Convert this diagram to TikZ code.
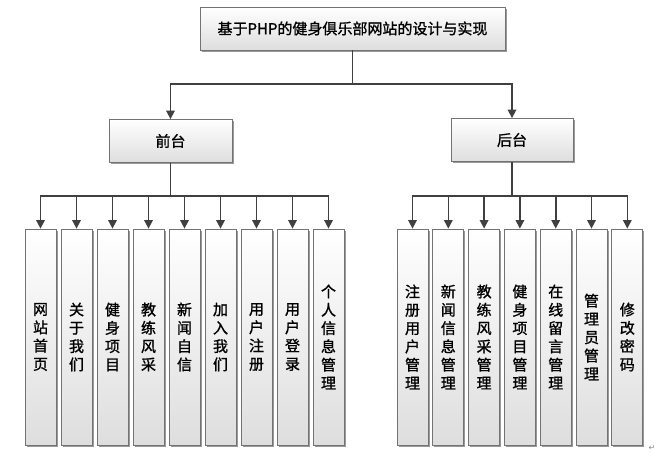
\documentclass[tikz,border=0pt]{standalone}
\usepackage{fontspec}
\newfontfamily\cjk{Noto Sans CJK SC}[FakeBold=1.2]
\newfontfamily\symfont{DejaVu Sans}
\usetikzlibrary{arrows.meta,shadows}
\begin{document}
\begin{tikzpicture}[x=1pt,y=-1pt,
  boxst/.style={draw=black!55, line width=0.8pt, top color=white, bottom color=black!13,
    general shadow={shadow xshift=1.6pt, shadow yshift=-1.6pt, fill=black!40},
    inner sep=0pt, font=\cjk\fontsize{15}{18.3}\selectfont, align=center},
  headst/.style={boxst, minimum height=43pt},
  leafst/.style={boxst, minimum width=31pt, minimum height=216pt},
  wire/.style={draw=black!75, line width=1.6pt},
  arr/.style={wire, -{Triangle[width=8.5pt,length=8.5pt]}}
]
\useasboundingbox (0,0) rectangle (661,455);
\fill[white] (0,0) rectangle (661,455);

\node[headst, minimum width=305pt] (top) at (352.5,28.5) {基于PHP的健身俱乐部网站的设计与实现};
\node[headst, minimum width=123pt] (front) at (170.5,141) {前台};
\node[headst, minimum width=122pt] (back) at (512,140) {后台};

\coordinate (tj) at (352.5,84);
\draw[wire] (top.south) -- (tj);
\draw[arr] (tj) -| (front.north);
\draw[arr] (tj) -| (back.north);

% front leaves
\foreach \i/\t in {0/网\\站\\首\\页, 1/关\\于\\我\\们, 2/健\\身\\项\\目, 3/教\\练\\风\\采,
  4/新\\闻\\自\\信, 5/加\\入\\我\\们, 6/用\\户\\注\\册, 7/用\\户\\登\\录, 8/个\\人\\信\\息\\管\\理}
  \node[leafst] (f\i) at ({40.5+36*\i},337) {\t};
\coordinate (fj) at (170.5,196);
\draw[wire] (front.south) -- (fj);
\foreach \i in {0,...,8} \draw[arr] (fj) -| (f\i.north);

% back leaves
\foreach \i/\t in {0/注\\册\\用\\户\\管\\理, 1/新\\闻\\信\\息\\管\\理, 2/教\\练\\风\\采\\管\\理,
  3/健\\身\\项\\目\\管\\理, 4/在\\线\\留\\言\\管\\理, 5/管\\理\\员\\管\\理, 6/修\\改\\密\\码}
  \node[leafst] (b\i) at ({412.5+35.8*\i},337) {\t};
\coordinate (bj) at (512,196);
\draw[wire] (back.south) -- (bj);
\foreach \i in {0,...,6} \draw[arr] (bj) -| (b\i.north);

\node[text=black!45, font=\symfont\fontsize{8}{8}\selectfont, inner sep=0pt] (pm) at (652,448) {↵};
\end{tikzpicture}
\end{document}
